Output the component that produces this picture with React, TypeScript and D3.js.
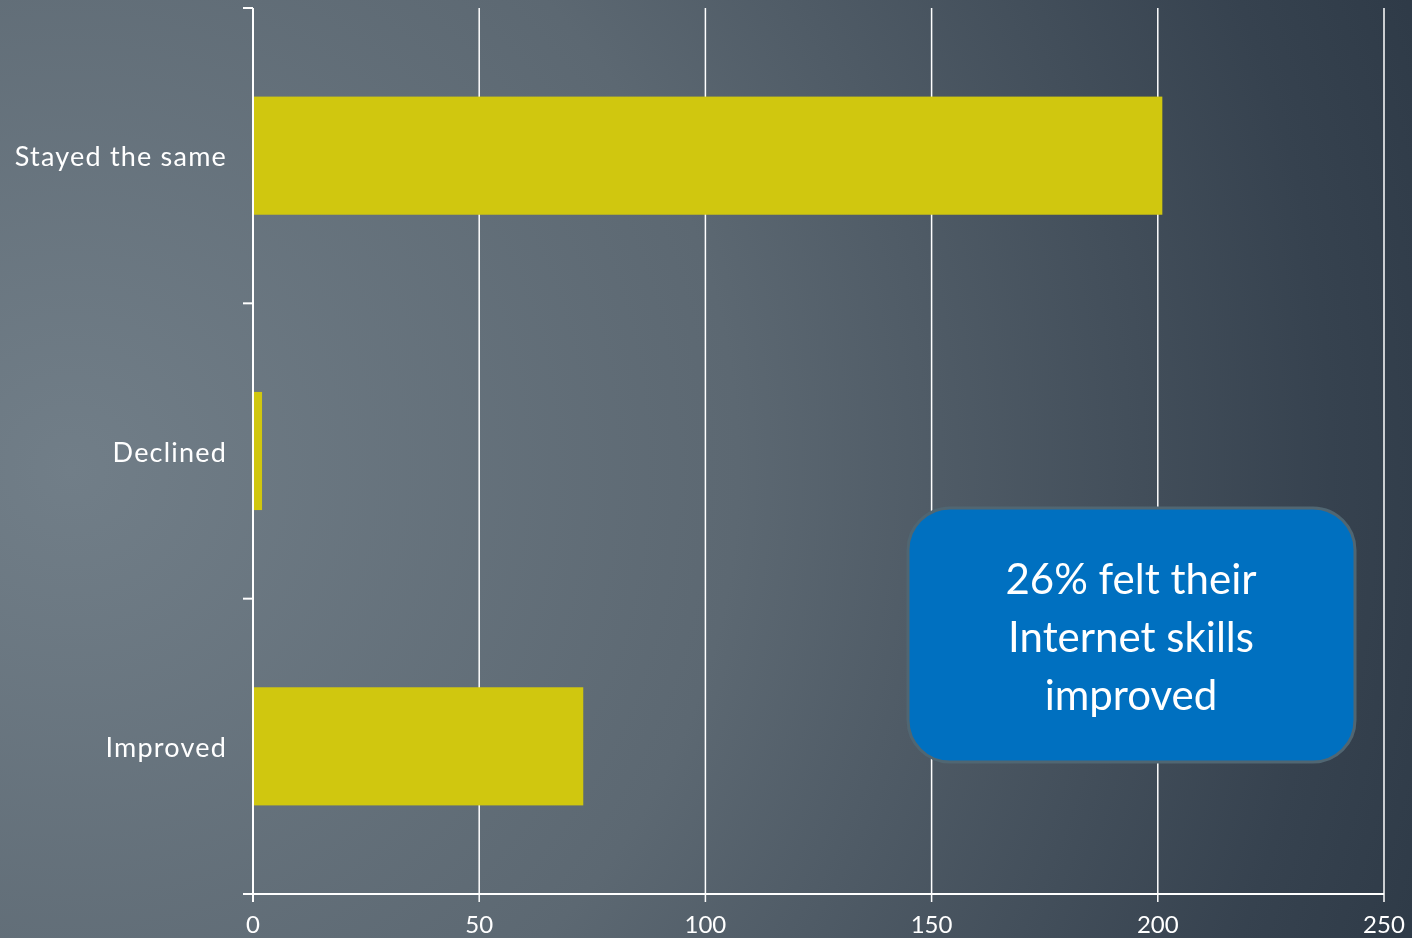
import React from "react";
import * as d3 from "d3";

const categories = ["Stayed the same", "Declined", "Improved"];
const values = [201, 2, 73];
const xTicks = [0, 50, 100, 150, 200, 250];
const calloutLines = ["26% felt their", "Internet skills", "improved"];

const W = 1412;
const H = 938;
const FONT = "'Lato', 'Noto Sans', sans-serif";

export default function App() {
  const left = 253;
  const right = 1384;
  const top = 8;
  const bottom = 894;
  const x = d3.scaleLinear().domain([0, 250]).range([left, right]);
  const y = d3.scaleBand().domain(categories).range([top, bottom]).paddingInner(0.6).paddingOuter(0.3);
  const band = (bottom - top) / categories.length;
  const boundaries = d3.range(categories.length + 1).map((i) => top + i * band);

  return (
    <svg width={W} height={H} style={{ position: "fixed", left: 0, top: 0 }}>
      <defs>
        <radialGradient id="bg" cx="0.05" cy="0.5" r="1.05" gradientUnits="objectBoundingBox" fx="0.05" fy="0.5"
          gradientTransform="translate(0.05,0.5) scale(1,1.5) translate(-0.05,-0.5)">
          <stop offset="0" stopColor="#717e88" />
          <stop offset="0.45" stopColor="#5c6872" />
          <stop offset="0.85" stopColor="#36424f" />
          <stop offset="1" stopColor="#2c3845" />
        </radialGradient>
      </defs>
      <rect x={0} y={0} width={W} height={H} fill="url(#bg)" />
      {xTicks.map((t) => (
        <line key={"g" + t} x1={x(t)} x2={x(t)} y1={top} y2={bottom + 8} stroke="#ffffff" strokeWidth={1.5} />
      ))}
      {categories.map((c, i) => (
        <rect key={c} x={x(0)} y={y(c)!} width={x(values[i]) - x(0)} height={y.bandwidth()} fill="#d0c70f" />
      ))}
      <line x1={left} x2={left} y1={top} y2={bottom + 8} stroke="#ffffff" strokeWidth={2} />
      {boundaries.map((b, i) => (
        <line key={"yt" + i} x1={left - 10} x2={left} y1={b} y2={b} stroke="#ffffff" strokeWidth={2} />
      ))}
      <line x1={left - 10} x2={right} y1={bottom} y2={bottom} stroke="#ffffff" strokeWidth={2} />
      {categories.map((c) => (
        <text key={"l" + c} x={227} y={y(c)! + y.bandwidth() / 2} textAnchor="end" dominantBaseline="central"
          fill="#ffffff" fontFamily={FONT} fontSize={27} letterSpacing={1.2}>
          {c}
        </text>
      ))}
      {xTicks.map((t) => (
        <text key={"t" + t} x={x(t)} y={933} textAnchor="middle" fill="#ffffff" fontFamily={FONT} fontSize={24}>
          {t}
        </text>
      ))}
      <rect x={908} y={508} width={447} height={254} rx={42} ry={42} fill="#0070c0" stroke="#506672" strokeWidth={3} />
      {calloutLines.map((l, i) => (
        <text key={"c" + i} x={1131} y={594 + i * 58} textAnchor="middle" fill="#ffffff" fontFamily={FONT} fontSize={42}>
          {l}
        </text>
      ))}
    </svg>
  );
}
